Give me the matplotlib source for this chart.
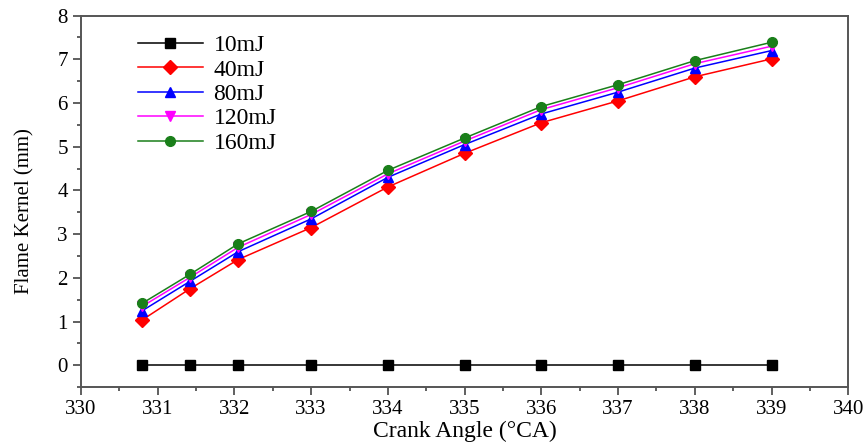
import matplotlib.pyplot as plt
from matplotlib.ticker import MultipleLocator

plt.rcParams['font.family'] = ['Liberation Serif', 'DejaVu Serif']

crank = [330.8, 331.42, 332.05, 333, 334, 335, 336, 337, 338, 339]
e10 = [0, 0, 0, 0, 0, 0, 0, 0, 0, 0]
e40 = [1.04, 1.75, 2.42, 3.15, 4.08, 4.85, 5.55, 6.05, 6.6, 7.01]
e80 = [1.25, 1.92, 2.6, 3.35, 4.3, 5.05, 5.75, 6.25, 6.8, 7.2]
e120 = [1.35, 2.01, 2.7, 3.45, 4.38, 5.13, 5.85, 6.35, 6.9, 7.3]
e160 = [1.42, 2.08, 2.78, 3.52, 4.46, 5.2, 5.92, 6.42, 6.97, 7.39]

labels = ['10mJ', '40mJ', '80mJ', '120mJ', '160mJ']
series = [e10, e40, e80, e120, e160]
colors = ['black', 'red', 'blue', 'magenta', '#1a7f1a']
markers = ['s', 'D', '^', 'v', 'o']

fig = plt.figure(figsize=(8.68, 4.46), dpi=100)
ax = fig.add_axes([0.0933, 0.132, 0.884, 0.833])

for y, lab, c, m in zip(series, labels, colors, markers):
    ax.plot(crank, y, color=c, marker=m, markersize=7, linewidth=1.1, label=lab)

ax.set_xlim(330, 340)
ax.set_ylim(-0.5, 8)
ax.xaxis.set_major_locator(MultipleLocator(1))
ax.xaxis.set_minor_locator(MultipleLocator(0.5))
ax.yaxis.set_major_locator(MultipleLocator(1))
ax.yaxis.set_minor_locator(MultipleLocator(0.5))
ax.tick_params(which='both', direction='out', top=False, right=False, labelsize=15, color='#444444')
ax.tick_params(which='major', length=6, width=1.2)
ax.tick_params(which='minor', length=3, width=1.2)
for s in ax.spines.values():
    s.set_color('#555555')
    s.set_linewidth(1.4)

ax.set_xlabel('Crank Angle (°CA)', fontsize=17, labelpad=1)
ax.set_ylabel('Flame Kernel (mm)', fontsize=15)
ax.yaxis.set_label_coords(-0.06, 0.475)

ax.legend(loc='upper left', bbox_to_anchor=(0.148, 0.943), bbox_transform=fig.transFigure,
          frameon=False, fontsize=17, handlelength=2.75, handletextpad=0.45,
          labelspacing=0.12, borderaxespad=0)

fig.savefig('out.png', dpi=100, facecolor='w')
